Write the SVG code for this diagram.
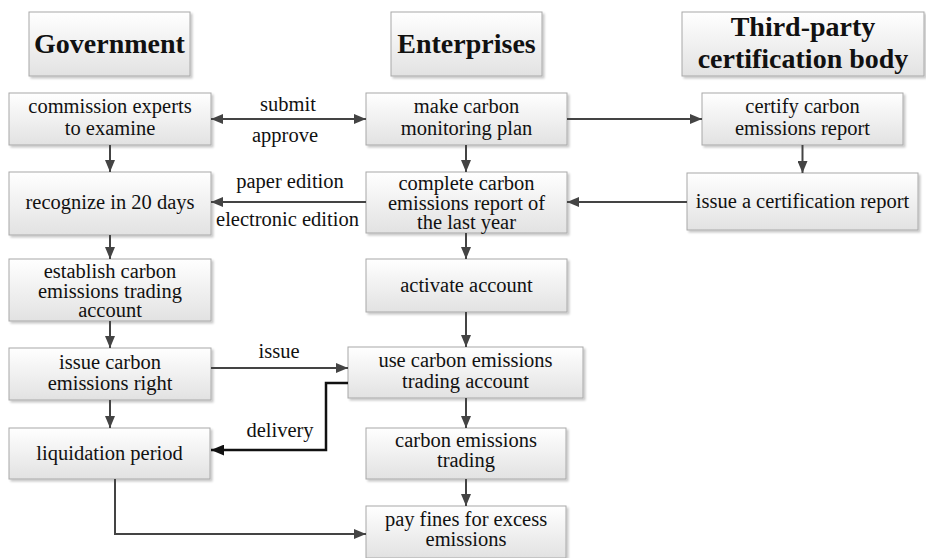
<svg xmlns="http://www.w3.org/2000/svg" width="926" height="558" viewBox="0 0 926 558">
<defs>
<linearGradient id="g" x1="0" y1="0" x2="0" y2="1">
<stop offset="0" stop-color="#ffffff"/>
<stop offset="1" stop-color="#e2e2e2"/>
</linearGradient>
<filter id="sh" x="-5%" y="-5%" width="115%" height="125%">
<feDropShadow dx="2" dy="2" stdDeviation="1.2" flood-color="#000" flood-opacity="0.22"/>
</filter>
<marker id="ah" viewBox="0 0 12 10" refX="12" refY="5" markerWidth="12" markerHeight="10" markerUnits="userSpaceOnUse" orient="auto-start-reverse">
<path d="M0,0 L12,5 L0,10 z" fill="#444"/>
</marker>
<marker id="ahk" viewBox="0 0 12 10" refX="12" refY="5" markerWidth="13" markerHeight="11" markerUnits="userSpaceOnUse" orient="auto">
<path d="M0,0 L12,5 L0,10 z" fill="#111"/>
</marker>
</defs>
<style>
.box{fill:url(#g);stroke:#a8a8a8;stroke-width:1;filter:url(#sh)}
text{font-family:'Liberation Serif','Tinos','DejaVu Serif',serif}
.t{font-size:20.5px;fill:#111;text-anchor:middle}
.h{font-size:28px;font-weight:bold;fill:#111;text-anchor:middle}
.c{fill:none;stroke:#444;stroke-width:2}
.ck{fill:none;stroke:#111;stroke-width:2.5}
</style>
<rect width="926" height="558" fill="#fff"/>

<g id="hdr-government"><rect class="box" x="29" y="12" width="161" height="64"/><text class="h" x="109.5" y="53">Government</text></g>
<g id="hdr-enterprises"><rect class="box" x="391" y="12" width="151" height="64"/><text class="h" x="466.5" y="53">Enterprises</text></g>
<g id="hdr-third"><rect class="box" x="682" y="12" width="242" height="64"/><text class="h" x="803" y="36">Third-party</text><text class="h" x="803" y="68">certification body</text></g>

<g id="n-commission"><rect class="box" x="9" y="93" width="202" height="52"/><text class="t" x="110" y="113">commission experts</text><text class="t" x="110" y="135">to examine</text></g>
<g id="n-make"><rect class="box" x="366" y="93" width="201" height="52"/><text class="t" x="466.5" y="113">make carbon</text><text class="t" x="466.5" y="135">monitoring plan</text></g>
<g id="n-certify"><rect class="box" x="702" y="93" width="201" height="52"/><text class="t" x="802.5" y="113">certify carbon</text><text class="t" x="802.5" y="135">emissions report</text></g>
<g id="n-recognize"><rect class="box" x="9" y="172" width="202" height="63"/><text class="t" x="110" y="209">recognize in 20 days</text></g>
<g id="n-complete"><rect class="box" x="366" y="172" width="201" height="61"/><text class="t" x="466.5" y="190">complete carbon</text><text class="t" x="466.5" y="210">emissions report of</text><text class="t" x="466.5" y="229">the last year</text></g>
<g id="n-issuecert"><rect class="box" x="687" y="173" width="231" height="57"/><text class="t" x="802.5" y="208">issue a certification report</text></g>
<g id="n-establish"><rect class="box" x="9" y="259" width="202" height="62"/><text class="t" x="110" y="278">establish carbon</text><text class="t" x="110" y="298">emissions trading</text><text class="t" x="110" y="317">account</text></g>
<g id="n-activate"><rect class="box" x="366" y="259" width="201" height="53"/><text class="t" x="466.5" y="292">activate account</text></g>
<g id="n-issueright"><rect class="box" x="9" y="348" width="202" height="52"/><text class="t" x="110" y="369">issue carbon</text><text class="t" x="110" y="390">emissions right</text></g>
<g id="n-use"><rect class="box" x="348" y="347" width="235" height="51"/><text class="t" x="465.5" y="367">use carbon emissions</text><text class="t" x="465.5" y="388">trading account</text></g>
<g id="n-liquidation"><rect class="box" x="9" y="428" width="201" height="51"/><text class="t" x="109.5" y="460">liquidation period</text></g>
<g id="n-trading"><rect class="box" x="366" y="428" width="200" height="51"/><text class="t" x="466" y="447">carbon emissions</text><text class="t" x="466" y="467">trading</text></g>
<g id="n-fines"><rect class="box" x="366" y="506" width="200" height="52"/><text class="t" x="466" y="526">pay fines for excess</text><text class="t" x="466" y="546">emissions</text></g>

<g id="connectors">
<line class="c" x1="211" y1="119" x2="366" y2="119" marker-start="url(#ah)" marker-end="url(#ah)"/>
<line class="c" x1="567" y1="119" x2="702" y2="119" marker-end="url(#ah)"/>
<line class="c" x1="802.5" y1="145" x2="802.5" y2="173" marker-end="url(#ah)"/>
<line class="c" x1="687" y1="202" x2="567" y2="202" marker-end="url(#ah)"/>
<line class="c" x1="366" y1="202" x2="211" y2="202" marker-end="url(#ah)"/>
<line class="c" x1="110" y1="145" x2="110" y2="172" marker-end="url(#ah)"/>
<line class="c" x1="466" y1="145" x2="466" y2="172" marker-end="url(#ah)"/>
<line class="c" x1="110" y1="235" x2="110" y2="259" marker-end="url(#ah)"/>
<line class="c" x1="110" y1="321" x2="110" y2="348" marker-end="url(#ah)"/>
<line class="c" x1="466" y1="233" x2="466" y2="259" marker-end="url(#ah)"/>
<line class="c" x1="466" y1="312" x2="466" y2="347" marker-end="url(#ah)"/>
<line class="c" x1="211" y1="368" x2="348" y2="368" marker-end="url(#ah)"/>
<path class="ck" d="M348,383 H326 V450 H211" marker-end="url(#ahk)"/>
<line class="c" x1="110" y1="400" x2="110" y2="428" marker-end="url(#ah)"/>
<line class="c" x1="466" y1="398" x2="466" y2="428" marker-end="url(#ah)"/>
<line class="c" x1="466" y1="479" x2="466" y2="506" marker-end="url(#ah)"/>
<path class="c" d="M115,479 V534 H366" marker-end="url(#ah)"/>
<text class="t" x="288" y="111">submit</text>
<text class="t" x="285" y="142">approve</text>
<text class="t" x="290" y="188">paper edition</text>
<text class="t" x="287.5" y="226">electronic edition</text>
<text class="t" x="279" y="358">issue</text>
<text class="t" x="280" y="437">delivery</text>
</g>
</svg>
